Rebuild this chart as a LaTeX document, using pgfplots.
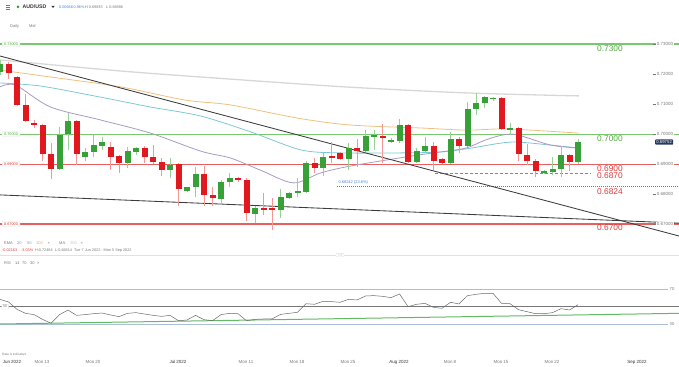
\documentclass[border=0pt]{standalone}
\usepackage{fontspec}
\setmainfont{Liberation Sans}
\usepackage{pgfplots}
\usepackage{pgfplotstable}
\pgfplotsset{compat=1.18}
\definecolor{lineG}{RGB}{120,200,110}
\definecolor{txtG}{RGB}{80,170,60}
\definecolor{lineR}{RGB}{232,95,95}
\definecolor{txtR}{RGB}{222,55,55}
\definecolor{fibB}{RGB}{70,130,215}
\definecolor{emaA}{RGB}{168,155,195}
\definecolor{emaB}{RGB}{125,200,212}
\definecolor{emaC}{RGB}{240,192,125}
\definecolor{maD}{RGB}{215,215,215}
\definecolor{trendC}{RGB}{60,60,60}
\definecolor{candR}{RGB}{225,25,30}
\definecolor{candG}{RGB}{55,160,55}
\definecolor{wickR}{RGB}{242,150,150}
\definecolor{wickG}{RGB}{150,210,150}
\definecolor{lbl}{RGB}{120,120,120}
\definecolor{dark}{RGB}{50,50,50}
\definecolor{navy}{RGB}{40,58,95}
\definecolor{rsiB}{RGB}{170,190,215}
\definecolor{rsiG}{RGB}{100,185,100}
\definecolor{rsiL}{RGB}{105,105,105}
\definecolor{midG}{RGB}{120,120,120}
\definecolor{sepC}{RGB}{225,225,225}

\pgfplotstableread{
i o h l c
0 0.7207 0.7247 0.7197 0.7233
7 0.6883 0.7023 0.6880 0.6997
8 0.7000 0.7070 0.6947 0.7043
10 0.6923 0.6953 0.6910 0.6940
11 0.6940 0.6997 0.6923 0.6963
12 0.6960 0.6990 0.6947 0.6973
15 0.6903 0.6957 0.6887 0.6943
16 0.6940 0.6957 0.6930 0.6953
20 0.6880 0.6920 0.6853 0.6897
22 0.6810 0.6823 0.6807 0.6823
23 0.6823 0.6890 0.6790 0.6867
26 0.6783 0.6847 0.6763 0.6840
27 0.6840 0.6870 0.6823 0.6853
30 0.6733 0.6760 0.6703 0.6753
33 0.6747 0.6817 0.6720 0.6790
34 0.6787 0.6807 0.6783 0.6803
35 0.6803 0.6853 0.6790 0.6810
36 0.6807 0.6910 0.6803 0.6903
38 0.6887 0.6937 0.6860 0.6923
41 0.6917 0.6970 0.6880 0.6953
43 0.6943 0.7013 0.6940 0.6993
44 0.6990 0.7013 0.6947 0.6997
46 0.6973 0.6987 0.6970 0.6980
47 0.6977 0.7050 0.6970 0.7030
49 0.6907 0.6953 0.6903 0.6943
50 0.6943 0.6990 0.6940 0.6960
53 0.6903 0.7007 0.6900 0.6983
55 0.6960 0.7107 0.6957 0.7083
56 0.7083 0.7137 0.7063 0.7103
57 0.7103 0.7127 0.7087 0.7123
58 0.7117 0.7123 0.7110 0.7120
60 0.7013 0.7037 0.6997 0.7020
64 0.6870 0.6880 0.6867 0.6877
65 0.6873 0.6923 0.6863 0.6883
66 0.6883 0.6960 0.6857 0.6930
68 0.6907 0.6983 0.6899 0.6975
}\up

\pgfplotstableread{
i o h l c
1 0.7233 0.7240 0.7183 0.7203
2 0.7190 0.7193 0.7093 0.7097
3 0.7097 0.7133 0.7040 0.7043
4 0.7037 0.7047 0.7020 0.7030
5 0.7030 0.7033 0.6910 0.6933
6 0.6933 0.6970 0.6850 0.6883
9 0.7043 0.7047 0.6897 0.6933
13 0.6957 0.6973 0.6880 0.6923
14 0.6927 0.6930 0.6870 0.6903
17 0.6953 0.6960 0.6903 0.6923
18 0.6923 0.6963 0.6900 0.6907
19 0.6907 0.6920 0.6860 0.6880
21 0.6900 0.6903 0.6760 0.6817
24 0.6867 0.6893 0.6760 0.6797
25 0.6797 0.6823 0.6760 0.6787
28 0.6853 0.6857 0.6840 0.6847
29 0.6847 0.6853 0.6710 0.6737
31 0.6753 0.6803 0.6730 0.6750
32 0.6753 0.6787 0.6681 0.6747
37 0.6903 0.6920 0.6870 0.6887
39 0.6927 0.6973 0.6903 0.6920
40 0.6937 0.6940 0.6913 0.6917
42 0.6953 0.6983 0.6890 0.6943
45 0.6993 0.7033 0.6903 0.6990
48 0.7030 0.7033 0.6903 0.6907
51 0.6960 0.6973 0.6880 0.6910
52 0.6917 0.6920 0.6900 0.6903
54 0.6983 0.6990 0.6937 0.6960
59 0.7120 0.7123 0.7013 0.7017
61 0.7020 0.7023 0.6910 0.6933
62 0.6930 0.6967 0.6897 0.6910
63 0.6910 0.6917 0.6857 0.6877
67 0.6930 0.6933 0.6877 0.6907
}\down

\pgfplotstableread{
i v
0 58.4
1 55.4
2 46.9
3 42.3
4 40.8
5 35.4
6 30.8
7 40.8
8 46.1
9 40.0
10 40.8
11 41.9
12 42.7
13 40.4
14 38.5
15 42.3
16 43.1
17 41.5
18 40.0
19 38.8
20 40.0
21 33.8
22 34.6
23 40.0
24 35.0
25 33.8
26 40.8
27 42.3
28 41.9
29 33.8
30 35.4
31 35.8
32 35.8
33 41.1
34 42.3
35 43.5
36 53.4
37 52.7
38 56.1
39 55.8
40 55.0
41 58.4
42 57.7
43 62.3
44 62.7
45 61.9
46 60.4
47 64.6
48 50.0
49 52.7
50 53.8
51 49.2
52 48.1
53 55.0
54 53.1
55 62.7
56 64.2
57 65.4
58 65.4
59 53.8
60 53.4
61 46.5
62 44.2
63 41.9
64 41.9
65 43.1
66 47.7
67 46.1
68 52.3
}\rsi

\newcommand{\fs}[1]{\fontsize{#1}{#1}\selectfont}

\begin{document}
\begin{tikzpicture}

% ---------------- main price panel ----------------
\begin{axis}[at={(0bp,127bp)}, anchor=south west, scale only axis,
  width=679bp, height=201bp, xmin=0, xmax=79.88, ymin=0.665, ymax=0.732,
  hide axis, clip=false]
\addplot[lineG, line width=1.1bp, forget plot] coordinates {(0,0.73) (79.88,0.73)};
\addplot[lineG, line width=1.0bp, forget plot] coordinates {(0,0.70) (79.88,0.70)};
\addplot[lineR, line width=1.0bp, forget plot] coordinates {(0,0.69) (79.88,0.69)};
\addplot[lineR, line width=1.1bp, forget plot] coordinates {(0,0.67) (79.88,0.67)};
\addplot[lineR, line width=0.9bp, dash pattern=on 3bp off 2bp, forget plot] coordinates {(51.2,0.6870) (69.5,0.6870)};
\addplot[fibB, line width=1bp, dash pattern=on 0.9bp off 1.1bp, forget plot] coordinates {(39.7,0.6824) (79.88,0.6824)};
\addplot[maD, line width=1.3bp, smooth, forget plot] coordinates {(0,0.7247) (14.2,0.7210) (27.1,0.7183) (40.6,0.7157) (54.8,0.7137) (68.1,0.7127)};
\addplot[emaC, line width=0.8bp, smooth, forget plot] coordinates {(0,0.7213) (5.94,0.7190) (14.2,0.7157) (21.8,0.7113) (27.1,0.7097) (35.0,0.7053) (41.2,0.7030) (49.5,0.7020) (54.8,0.7013) (58.9,0.7017) (62.4,0.7013) (68.1,0.7003)};
\addplot[emaB, line width=0.8bp, smooth, forget plot] coordinates {(0,0.7170) (4.76,0.7160) (11.8,0.7123) (17.7,0.7090) (23.6,0.7060) (29.5,0.7007) (35.4,0.6947) (40.1,0.6937) (47.1,0.6937) (51.8,0.6940) (55.4,0.6953) (60.1,0.6973) (64.8,0.6963) (68.1,0.6953)};
\addplot[emaA, line width=0.8bp, smooth, forget plot] coordinates {(0,0.7157) (1.82,0.7163) (5.94,0.7090) (11.8,0.7047) (17.7,0.7003) (23.6,0.6943) (27.1,0.6920) (30.6,0.6880) (34.5,0.6837) (37.7,0.6870) (41.2,0.6893) (48.5,0.6927) (51.8,0.6940) (54.8,0.6953) (57.1,0.6980) (59.2,0.6997) (60.9,0.6997) (64.8,0.6963) (68.1,0.6953)};
\addplot[trendC, line width=0.85bp, forget plot] coordinates {(0,0.7260) (79.88,0.6660)};
\addplot[trendC, line width=0.85bp, forget plot] coordinates {(0,0.6797) (79.88,0.6703)};
\addplot[draw=none, mark=none, forget plot, error bars/.cd, y dir=both, y explicit, error mark=none,
  error bar style={draw=wickG, line width=0.9bp}]
  table[x=i, y expr={(\thisrow{h}+\thisrow{l})/2}, y error expr={(\thisrow{h}-\thisrow{l})/2}] {\up};
\addplot[draw=none, mark=none, forget plot, error bars/.cd, y dir=both, y explicit, error mark=none,
  error bar style={draw=wickR, line width=0.9bp}]
  table[x=i, y expr={(\thisrow{h}+\thisrow{l})/2}, y error expr={(\thisrow{h}-\thisrow{l})/2}] {\down};
\addplot[draw=none, mark=none, forget plot, error bars/.cd, y dir=both, y explicit, error mark=none,
  error bar style={draw=candG, line width=6bp}]
  table[x=i, y expr={(\thisrow{o}+\thisrow{c})/2}, y error expr={max(abs(\thisrow{c}-\thisrow{o})/2,0.00012)}] {\up};
\addplot[draw=none, mark=none, forget plot, error bars/.cd, y dir=both, y explicit, error mark=none,
  error bar style={draw=candR, line width=6bp}]
  table[x=i, y expr={(\thisrow{o}+\thisrow{c})/2}, y error expr={max(abs(\thisrow{c}-\thisrow{o})/2,0.00012)}] {\down};
\end{axis}

% ---------------- RSI panel ----------------
\begin{axis}[at={(0bp,31bp)}, anchor=south west, scale only axis,
  width=679bp, height=55bp, xmin=0, xmax=79.88, ymin=17.32, ymax=80.72,
  hide axis, clip=false]
\addplot[rsiB, line width=0.8bp, forget plot] coordinates {(0,70) (78.6,70)};
\addplot[rsiB, line width=0.8bp, forget plot] coordinates {(0,30) (78.6,30)};
\addplot[midG, line width=1.3bp, forget plot] coordinates {(0,50) (79.88,50)};
\addplot[rsiG, line width=1bp, forget plot] coordinates {(0,30) (79.88,42.3)};
\addplot[rsiL, line width=0.5bp, forget plot] table[x=i, y=v] {\rsi};
\end{axis}

\begin{scope}[x=1bp,y=1bp]
% ---------------- header ----------------
\draw[lbl, line width=0.5bp] (5.5,361) -- (10,361) (5.5,359) -- (10,359) (5.5,357) -- (10,357);
\fill[candG] (18,359) circle (1.5);
\node[anchor=west, inner sep=0, text=dark, font=\fs{5.2}\bfseries] at (22.5,359) {AUD/USD};
\fill[dark] (51.5,360) -- (54.5,360) -- (53,358) -- cycle;
\node[anchor=west, inner sep=0, text=fibB, font=\fs{3.8}] at (59,359) {0.00666};
\node[anchor=west, inner sep=0, text=fibB, font=\fs{3.8}] at (73.5,359) {0.96\%};
\node[anchor=west, inner sep=0, text=lbl, font=\fs{3.8}] at (85,359) {H 0.69835};
\node[anchor=west, inner sep=0, text=lbl, font=\fs{3.8}] at (106,359) {L 0.68986};
\node[anchor=west, inner sep=0, text=lbl, font=\fs{4}] at (10,339.5) {Daily};
\node[anchor=west, inner sep=0, text=lbl, font=\fs{4}] at (29,339.5) {Mid};

% ---------------- left boxed level labels ----------------
\foreach \yy/\tt/\cc in {322/0.73000/txtG, 232/0.70000/txtG, 202/0.69000/txtR, 142/0.67000/txtR}{
  \node[anchor=west, draw=sepC, fill=white, rounded corners=0.8, inner xsep=2, inner ysep=1.2,
    text=\cc, font=\fs{3.8}] at (2,\yy) {\tt};
}

% ---------------- right axis labels ----------------
\foreach \yy/\tt in {322/0.73000, 292/0.72000, 262/0.71000, 232/0.70000, 202/0.69000, 172/0.68000, 142/0.67000}{
  \node[anchor=west, fill=white, inner xsep=0.6, inner ysep=0.8, text=lbl, font=\fs{4.5}] at (656,\yy) {\tt};
  \draw[lbl, line width=0.4bp] (652.5,\yy) -- (655.5,\yy);
}
\node[anchor=west, fill=navy, rounded corners=0.8, inner xsep=1.2, inner ysep=1.2, text=white, font=\fs{4.3}] at (655,224) {0.69752};

% ---------------- big level labels ----------------
\node[anchor=east, inner sep=0, text=txtG, font=\fs{8.4}] at (623,317) {0.7300};
\node[anchor=east, inner sep=0, text=txtG, font=\fs{8.4}] at (623,227) {0.7000};
\node[anchor=east, inner sep=0, text=txtR, font=\fs{8.4}] at (623,197) {0.6900};
\node[anchor=east, inner sep=0, text=txtR, font=\fs{8.4}] at (623,190) {0.6870};
\node[anchor=east, inner sep=0, text=txtR, font=\fs{8.4}] at (623,174) {0.6824};
\node[anchor=east, inner sep=0, text=txtR, font=\fs{8.4}] at (623,138) {0.6700};
\node[anchor=south west, inner sep=0.3, text=fibB, font=\fs{4}] at (338,181) {0.68242 (23.6\%)};

% ---------------- legend rows ----------------
\node[anchor=west, inner sep=0, text=lbl, font=\fs{4}] at (4,123) {EMA};
\node[anchor=west, inner sep=0, text=emaA!85!black, font=\fs{4}] at (17,123) {20};
\node[anchor=west, inner sep=0, text=emaB!85!black, font=\fs{4}] at (27,123) {50};
\node[anchor=west, inner sep=0, text=emaC!90!black, font=\fs{4}] at (36,123) {100};
\node[anchor=west, inner sep=0, text=lbl, font=\fs{4}] at (47.5,123) {×};
\node[anchor=west, inner sep=0, text=lbl, font=\fs{4}] at (59,123) {MA};
\node[anchor=west, inner sep=0, text=maD!90!black, font=\fs{4}] at (70,123) {200};
\node[anchor=west, inner sep=0, text=lbl, font=\fs{4}] at (80.5,123) {×};
\node[anchor=west, inner sep=0, text=txtR, font=\fs{3.8}] at (2,115.5) {-0.02163};
\node[anchor=west, inner sep=0, text=txtR, font=\fs{3.8}] at (21,115.5) {-3.03\%};
\node[anchor=west, inner sep=0, text=lbl, font=\fs{3.8}] at (35,115.5) {H:0.72484};
\node[anchor=west, inner sep=0, text=lbl, font=\fs{3.8}] at (55,115.5) {L:0.66814};
\node[anchor=west, inner sep=0, text=lbl, font=\fs{3.8}] at (74,115.5) {Tue 7 Jun 2022 - Mon 5 Sep 2022};
\draw[sepC, line width=0.6bp] (0,111) -- (679,111);
\draw[sepC, fill=white, rounded corners=0.6, line width=0.4bp] (336,109.3) rectangle (344,112.7);
\fill[lbl] (338.3,111) circle (0.3) (340,111) circle (0.3) (341.7,111) circle (0.3);
\node[anchor=west, inner sep=0, text=lbl, font=\fs{4}] at (4,103) {RSI};
\node[anchor=west, inner sep=0, text=lbl, font=\fs{4}] at (15,103) {14};
\node[anchor=west, inner sep=0, text=lbl, font=\fs{4}] at (22,103) {70};
\node[anchor=west, inner sep=0, text=lbl, font=\fs{4}] at (30,103) {30};
\node[anchor=west, inner sep=0, text=lbl, font=\fs{4}] at (37,103) {×};

% ---------------- RSI labels ----------------
\node[anchor=west, inner sep=0.5, fill=white, text=lbl, font=\fs{4.2}] at (669,76.7) {70};
\node[anchor=west, inner sep=0.5, fill=white, text=lbl, font=\fs{4.2}] at (669,42) {30};
\node[anchor=west, draw=sepC, fill=white, rounded corners=0.6, inner xsep=1.5, inner ysep=1, text=lbl, font=\fs{3.6}] at (1.5,59.3) {50};

% ---------------- x axis labels ----------------
\foreach \xx/\tt in {12/Jun 2022, 178/Jul 2022, 399/Aug 2022, 637/Sep 2022}{
  \node[inner sep=0, text=dark, font=\fs{4.5}] at (\xx,4) {\tt};
}
\foreach \xx/\tt in {42/Mon 13, 93/Mon 20, 246/Mon 11, 297/Mon 18, 348/Mon 25, 450/Mon 8, 501/Mon 15, 552/Mon 22}{
  \node[inner sep=0, text=lbl, font=\fs{4.5}] at (\xx,4) {\tt};
}
\node[anchor=west, inner sep=0, text=lbl, font=\fs{3.2}] at (2,11.5) {Data is indicative};

\pgfresetboundingbox
\path[use as bounding box] (0,0) rectangle (679,366);
\end{scope}
\end{tikzpicture}
\end{document}
